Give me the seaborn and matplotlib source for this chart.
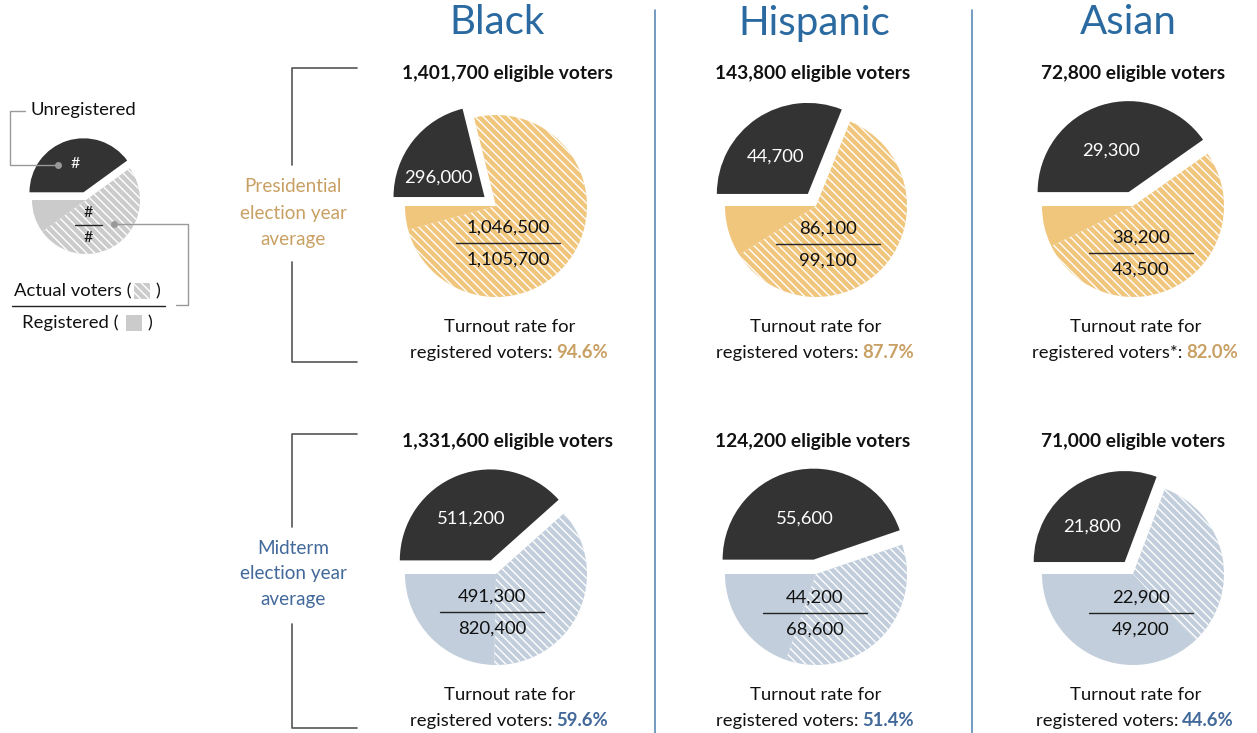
import seaborn as sns
import matplotlib.pyplot as plt
from matplotlib.lines import Line2D
from matplotlib.patches import Rectangle

# ---- data ----
groups = ['Black', 'Hispanic', 'Asian']
pres_eligible = ['1,401,700', '143,800', '72,800']
pres_unregistered = [296000, 44700, 29300]
pres_actual = [1046500, 86100, 38200]
pres_registered = [1105700, 99100, 43500]
pres_rate = ['94.6%', '87.7%', '82.0%']

mid_eligible = ['1,331,600', '124,200', '71,000']
mid_unregistered = [511200, 55600, 21800]
mid_actual = [491300, 44200, 22900]
mid_registered = [820400, 68600, 49200]
mid_rate = ['59.6%', '51.4%', '44.6%']

legend_shares = [0.10, 0.50, 0.40]  # not voted, voted, unregistered (schematic)

DARK = '#333333'
GOLD = '#f0c57c'
STEEL = '#c2cedb'
GREY = '#cbcbcb'
BLUE = '#2a6aa0'
PRES_C = '#c9a063'
MID_C = '#42699a'
FS = 13.3
HATCH = '\\' * 4

sns.set_theme(style='white')
plt.rcParams['font.family'] = ['Lato', 'DejaVu Sans']
plt.rcParams['hatch.linewidth'] = 1.0

W, H = 1257, 733
fig = plt.figure(figsize=(W / 100, H / 100), dpi=100)

R = 91  # pie radius in pixels


def pie_at(cx, cy, shares, light, r=R, explode=0.16):
    box = r * 2.64
    ax = fig.add_axes([(cx - box / 2) / W, 1 - (cy + box / 2) / H, box / W, box / H])
    wedges, _ = ax.pie(shares, startangle=180, counterclock=True,
                       colors=[light, light, DARK], explode=[0, 0, explode],
                       wedgeprops=dict(linewidth=0, edgecolor='white'))
    wedges[1].set_hatch(HATCH)
    wedges[0].set_edgecolor(light)
    wedges[2].set_edgecolor(DARK)
    ax.set_xlim(-1.32, 1.32)
    ax.set_ylim(-1.32, 1.32)
    ax.axis('off')
    return ax


col_pie = [496, 816, 1133]
col_txt = [507, 813, 1133]
pie_y = [206, 574]

rows = [
    (pres_eligible, pres_unregistered, pres_actual, pres_registered, pres_rate, GOLD, PRES_C, 73),
    (mid_eligible, mid_unregistered, mid_actual, mid_registered, mid_rate, STEEL, MID_C, 442),
]

for ri, (elig, unreg, act, reg, rate, light, rc, ey) in enumerate(rows):
    for ci in range(3):
        shares = [reg[ci] - act[ci], act[ci], unreg[ci]]
        pie_at(col_pie[ci], pie_y[ri], shares, light)

# overlay for text and lines, in pixel coordinates
ov = fig.add_axes([0, 0, 1, 1], zorder=10)
ov.set_xlim(0, W)
ov.set_ylim(H, 0)
ov.axis('off')
ov.patch.set_alpha(0)
renderer = fig.canvas.get_renderer()


def two_part(x, y, a, b, ca, cb, wb='bold'):
    t1 = ov.text(0, y, a, ha='left', va='center', fontsize=FS, color=ca)
    t2 = ov.text(0, y, b, ha='left', va='center', fontsize=FS, fontweight=wb, color=cb)
    w1 = t1.get_window_extent(renderer).width
    w2 = t2.get_window_extent(renderer).width
    start = x - (w1 + w2) / 2
    t1.set_x(start)
    t2.set_x(start + w1 + 4)


# column headers and separators
for ci, g in enumerate(groups):
    ov.text([497, 814, 1128][ci], 23, g, ha='center', va='center', fontsize=29,
            color=BLUE)
for x in [655, 972]:
    ov.add_line(Line2D([x, x], [10, 733], color='#5b8bb8', lw=1.2))

# pie labels
dark_pos = [[(438, 178), (776, 157), (1111, 151)], [(471, 519), (805, 519), (1092, 527)]]
frac_pos = [[(508, 243), (828, 244), (1141, 253)], [(492, 612), (815, 613), (1141, 613)]]

for ri, (elig, unreg, act, reg, rate, light, rc, ey) in enumerate(rows):
    for ci in range(3):
        tx = col_txt[ci]
        ov.text(tx, ey, f'{elig[ci]} eligible voters', ha='center', va='center',
                fontsize=13.8, fontweight='bold', color='#111111')
        dx, dy = dark_pos[ri][ci]
        ov.text(dx, dy, f'{unreg[ci]:,}', ha='center', va='center', fontsize=FS, color='white')
        fx, fy = frac_pos[ri][ci]
        ov.text(fx, fy - 15, f'{act[ci]:,}', ha='center', va='center', fontsize=FS, color='#111111')
        ov.add_line(Line2D([fx - 52, fx + 52], [fy, fy], color='#222222', lw=1))
        ov.text(fx, fy + 17, f'{reg[ci]:,}', ha='center', va='center', fontsize=FS, color='#111111')

        ty = pie_y[ri] + 121
        ov.text(tx + 3, ty, 'Turnout rate for', ha='center', va='center', fontsize=FS, color='#111111')
        lab = 'registered voters*:' if (ri == 0 and ci == 2) else 'registered voters:'
        two_part(tx, ty + 26, lab, rate[ci], '#111111', rc)

# row brackets
bracket_c = '#555555'
for (top, g1, g2, bot, lines, c, ly) in [
        (68, 165, 262, 362, ['Presidential', 'election year', 'average'], PRES_C, 187),
        (434, 527, 624, 728, ['Midterm', 'election year', 'average'], MID_C, 548)]:
    ov.add_line(Line2D([357, 292, 292], [top, top, g1], color=bracket_c, lw=1.2))
    ov.add_line(Line2D([292, 292, 357], [g2, bot, bot], color=bracket_c, lw=1.2))
    for k, s in enumerate(lines):
        ov.text(293, ly + 26 * k, s, ha='center', va='center', fontsize=13.6, color=c)

# legend
pie_at(86, 200, legend_shares, GREY, r=54, explode=0.15)
lc = '#999999'
ov.text(31, 110, 'Unregistered', ha='left', va='center', fontsize=FS, color='#111111')
ov.add_line(Line2D([25, 10, 10, 58], [111, 111, 165, 165], color=lc, lw=1))
ov.plot([58], [165], 'o', color=lc, ms=4)
ov.text(75, 164, '#', ha='center', va='center', fontsize=11.5, color='white')
ov.text(88, 213, '#', ha='center', va='center', fontsize=11.5, color='#111111')
ov.add_line(Line2D([75, 102], [225, 225], color='#222222', lw=1))
ov.text(88, 238, '#', ha='center', va='center', fontsize=11.5, color='#111111')
ov.plot([114], [224], 'o', color=lc, ms=4)
ov.add_line(Line2D([114, 188, 188, 176], [224, 224, 305, 305], color=lc, lw=1))

ov.text(14, 291, 'Actual voters (', ha='left', va='center', fontsize=FS, color='#111111')
ov.add_patch(Rectangle((134, 283), 16, 16, facecolor=GREY, edgecolor='white',
                       hatch=HATCH, lw=0))
ov.text(155, 291, ')', ha='left', va='center', fontsize=FS, color='#111111')
ov.add_line(Line2D([12, 165], [306, 306], color='#222222', lw=1))
ov.text(22, 323, 'Registered (', ha='left', va='center', fontsize=FS, color='#111111')
ov.add_patch(Rectangle((126, 315), 16, 16, facecolor=GREY, lw=0))
ov.text(147, 323, ')', ha='left', va='center', fontsize=FS, color='#111111')

fig.savefig('out.png', dpi=100)
